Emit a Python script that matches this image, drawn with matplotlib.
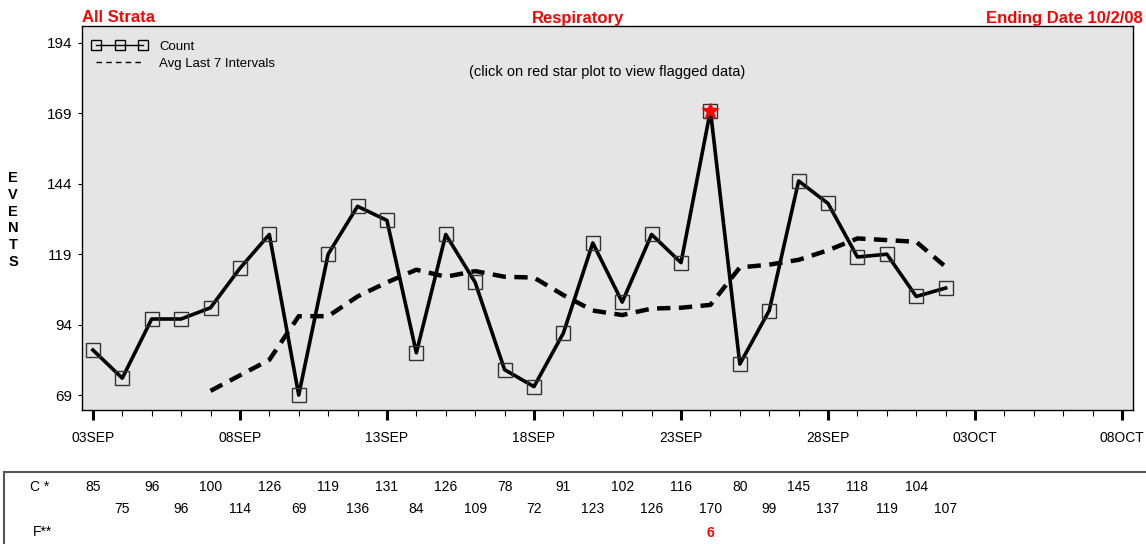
import matplotlib
matplotlib.use("Agg")
import matplotlib.pyplot as plt
from matplotlib.lines import Line2D
from matplotlib.ticker import MultipleLocator
import matplotlib.transforms as mtransforms

plt.rcParams['font.family'] = ['Liberation Sans', 'DejaVu Sans']

# dias desde 03SEP
dias = list(range(30))
conteo = [85, 75, 96, 96, 100, 114, 126, 69, 119, 136,
          131, 84, 126, 109, 78, 72, 91, 123, 102, 126,
          116, 170, 80, 99, 145, 137, 118, 119, 104, 107]

# media de los ultimos 7 intervalos (empieza en 07SEP)
dias_media = list(range(4, 30))
media7 = [70.5, 76, 81.5, 97, 97, 104, 109, 113.5, 111, 113,
          111, 110.7, 104.5, 99, 97.4, 99.7, 100, 101, 114.3, 115.3,
          117, 120.4, 124.6, 124, 123.4, 114.5]

# dias marcados con estrella roja
dias_flag = [21]
valores_flag = ["6"]

etiquetas_x = ['03SEP', '08SEP', '13SEP', '18SEP', '23SEP', '28SEP', '03OCT', '08OCT']
ticks_y = [69, 94, 119, 144, 169, 194]

W, H = 1146, 544
fig = plt.figure(figsize=(W / 100, H / 100), dpi=100)
ax = fig.add_axes([82 / W, 1 - 410 / H, (1133 - 82) / W, (410 - 26) / H])
ax.set_facecolor('#e5e5e5')

ax.plot(dias_media, media7, color='black', lw=3.2,
        linestyle=(0, (3, 1.9)), dash_capstyle='butt', zorder=2)
ax.plot(dias, conteo, color='black', lw=2.6, zorder=3)
ax.plot(dias, conteo, linestyle='none', marker='s', markersize=10,
        mfc='none', mec='#333333', mew=1.0, zorder=4)
ax.plot([dias[i] for i in dias_flag], [conteo[i] for i in dias_flag],
        linestyle='none', marker='*', markersize=12, color='red',
        mec='red', zorder=5)

ax.set_xlim(-0.37, 35.37)
ax.set_ylim(63.7, 200)
ax.set_xticks(range(0, 36, 5))
ax.set_xticklabels(etiquetas_x, fontsize=10)
ax.xaxis.set_minor_locator(MultipleLocator(1))
ax.set_yticks(ticks_y)
ax.set_yticklabels([str(t) for t in ticks_y], fontsize=11)
ax.tick_params(axis='x', which='major', direction='out', length=7, width=2.2, pad=8)
ax.tick_params(axis='x', which='minor', direction='out', length=4, width=0.8)
ax.tick_params(axis='y', direction='out', length=3, width=0.8, pad=4)
for s in ax.spines.values():
    s.set_linewidth(1.0)

# leyenda
handles = [
    Line2D([], [], color='black', lw=1, marker='s', markersize=6.5,
           mfc='none', mec='black'),
    Line2D([], [], color='black', lw=1, linestyle=(0, (4, 3))),
]
ax.legend(handles, ['Count', 'Avg Last 7 Intervals'], loc='upper left',
          bbox_to_anchor=(0.002, 0.982), frameon=False, numpoints=3,
          fontsize=9.5, handlelength=4.2, handletextpad=0.9,
          borderaxespad=0.3, borderpad=0.3, labelspacing=0.35)

ax.text(0.5, 0.881, '(click on red star plot to view flagged data)',
        transform=ax.transAxes, ha='center', va='center', fontsize=10.5)

# titulos en rojo
fig.text(82 / W, 1 - 18 / H, 'All Strata', color='red', fontweight='bold',
         fontsize=12, ha='left', va='center')
fig.text(578 / W, 1 - 18 / H, 'Respiratory', color='red', fontweight='bold',
         fontsize=12, ha='center', va='center')
fig.text(1143 / W, 1 - 18 / H, 'Ending Date 10/2/08', color='red',
         fontweight='bold', fontsize=12, ha='right', va='center')

fig.text(13 / W, 1 - 220 / H, 'E\nV\nE\nN\nT\nS', fontweight='bold',
         fontsize=10.5, ha='center', va='center', linespacing=1.25)

# tabla inferior
fig.add_artist(Line2D([4 / W, 1], [1 - 472 / H, 1 - 472 / H],
                      color='#555555', lw=1.5))
fig.add_artist(Line2D([4 / W, 4 / W], [1 - 472 / H, 0],
                      color='#555555', lw=1.5))

trans = mtransforms.blended_transform_factory(ax.transData, fig.transFigure)
fig.text(40 / W, 1 - 487 / H, 'C *', fontsize=10, ha='center', va='center')
fig.text(42 / W, 1 - 532 / H, 'F**', fontsize=10, ha='center', va='center')
for d, c in zip(dias, conteo):
    y = 1 - (487 if d % 2 == 0 else 509) / H
    ax.text(d, y, str(c), transform=trans, fontsize=10, ha='center',
            va='center', clip_on=False)
for d, v in zip(dias_flag, valores_flag):
    ax.text(d, 1 - 533 / H, v, transform=trans, fontsize=10, color='red',
            fontweight='bold', ha='center', va='center', clip_on=False)

fig.savefig('out.png', dpi=100)
